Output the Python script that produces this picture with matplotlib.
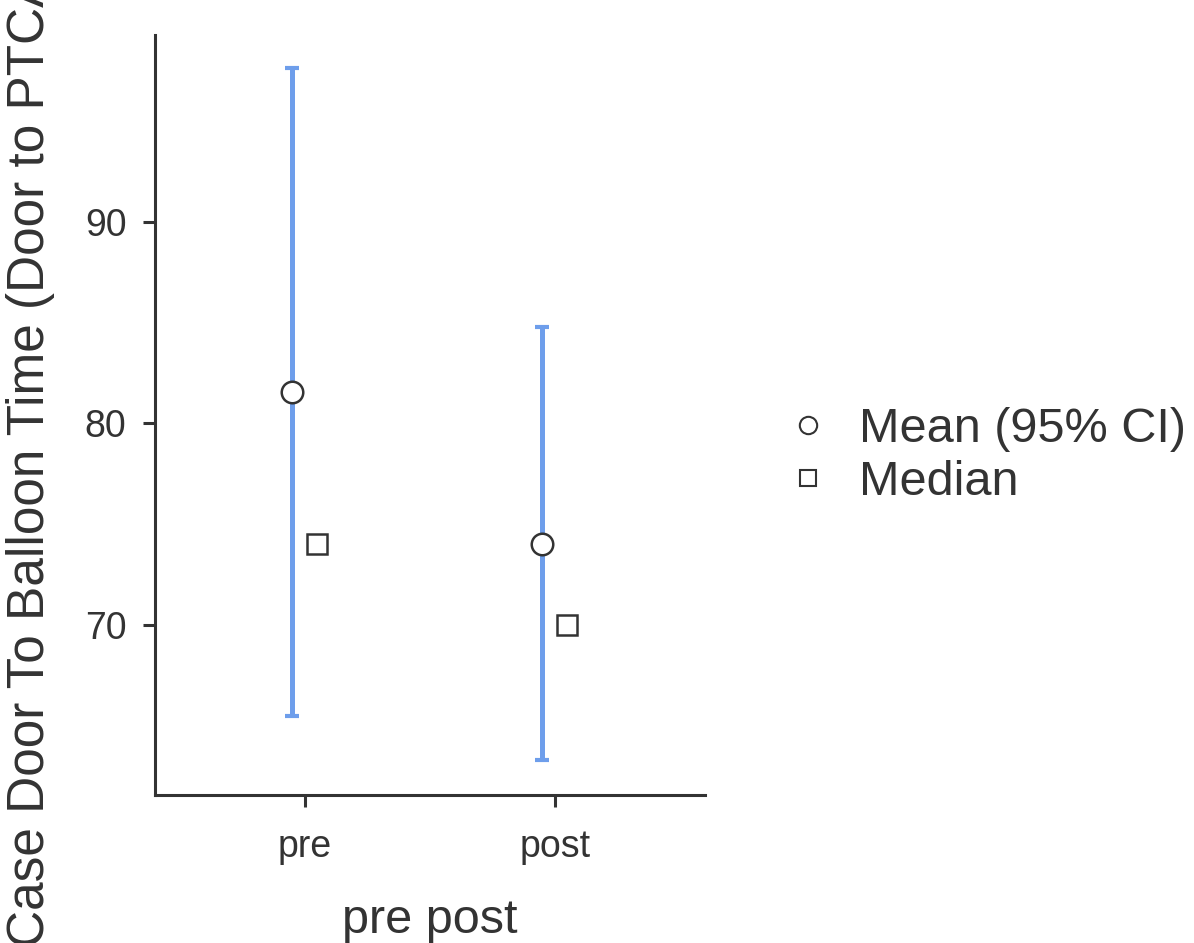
import matplotlib
matplotlib.use("Agg")
import matplotlib.pyplot as plt
from matplotlib.lines import Line2D
import numpy as np

plt.rcParams['font.family'] = ['Liberation Sans', 'DejaVu Sans']

categories = ["pre", "post"]
means = [81.55, 74.0]
ci_low = [65.5, 63.3]
ci_high = [97.65, 84.8]
medians = [74.0, 70.0]
yticks = [70, 80, 90]

DARK = "#333333"
BLUE = "#6E9EEB"

W, H = 1194, 943
fig = plt.figure(figsize=(W / 100, H / 100), dpi=100)
ax = fig.add_axes([155 / W, (H - 795) / H, 550 / W, 760 / H])

x = np.arange(1, len(categories) + 1)
dodge = 0.05
m = np.array(means)
lo = m - np.array(ci_low)
hi = np.array(ci_high) - m

ax.errorbar(x - dodge, m, yerr=[lo, hi], fmt='none', ecolor=BLUE,
            elinewidth=3.6, capsize=4.7, capthick=3.0, zorder=2)
ax.plot(x - dodge, m, 'o', ms=15.5, mfc='white', mec=DARK, mew=1.8, zorder=3,
        linestyle='none')
ax.plot(x + dodge, medians, 's', ms=14, mfc='white', mec=DARK, mew=1.8, zorder=3,
        linestyle='none')

ax.set_xlim(0.4, 2.6)
ax.set_ylim(61.56, 99.28)
ax.set_xticks(x)
ax.set_xticklabels(categories)
ax.set_yticks(yticks)

for s in ['top', 'right']:
    ax.spines[s].set_visible(False)
for s in ['left', 'bottom']:
    ax.spines[s].set_color(DARK)
    ax.spines[s].set_linewidth(2.2)

ax.tick_params(axis='both', colors=DARK, width=2.2, length=8.5, labelsize=27,
               labelcolor=DARK)
ax.tick_params(axis='y', pad=12)
ax.tick_params(axis='x', pad=16)

ax.set_xlabel("pre post", fontsize=35, color=DARK, labelpad=24)

fig.text(44 / W, (H - 947) / H, "Case Door To Balloon Time (Door to PTCA)",
         rotation=90, rotation_mode='anchor', ha='left', va='baseline',
         fontsize=37, color=DARK)

handles = [
    Line2D([], [], marker='o', ls='none', ms=12.5, mfc='white', mec=DARK, mew=1.5),
    Line2D([], [], marker='s', ls='none', ms=11, mfc='white', mec=DARK, mew=1.5),
]
fig.legend(handles, ["Mean (95% CI)", "Median"], loc='center left',
           bbox_to_anchor=(796 / W, (H - 456) / H), frameon=False,
           fontsize=35, handlelength=0.5, handletextpad=0.8, labelspacing=0.16,
           borderpad=0, borderaxespad=0, labelcolor=DARK)

fig.savefig("out.png", dpi=100, facecolor='white')
